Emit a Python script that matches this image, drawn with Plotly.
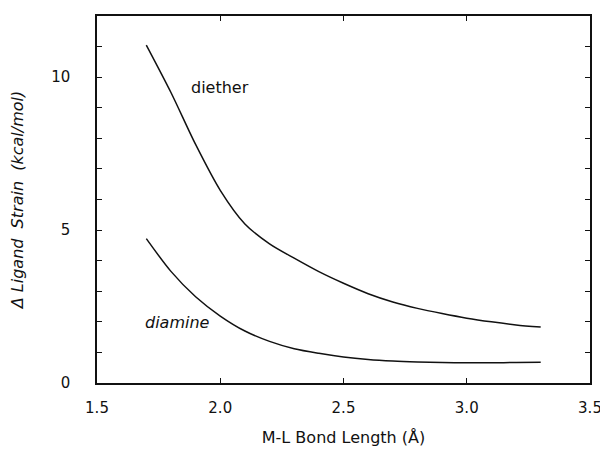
import plotly.graph_objects as go

bond_length = [1.7, 1.8, 1.9, 2.0, 2.1, 2.2, 2.3, 2.4, 2.5, 2.6, 2.7, 2.8, 2.9, 3.0, 3.1, 3.2, 3.3]
diether = [11.05, 9.5, 7.8, 6.3, 5.2, 4.55, 4.08, 3.64, 3.26, 2.92, 2.65, 2.44, 2.27, 2.12, 2.0, 1.9, 1.83]
diamine = [4.72, 3.65, 2.82, 2.19, 1.7, 1.36, 1.12, 0.97, 0.85, 0.77, 0.72, 0.69, 0.67, 0.66, 0.66, 0.67, 0.68]

font = "DejaVu Sans, Arial, sans-serif"
ink = "#111111"

fig = go.Figure()
for name, ys in [("diether", diether), ("diamine", diamine)]:
    fig.add_trace(go.Scatter(x=bond_length, y=ys, mode="lines", name=name,
                             line=dict(color=ink, width=1.5, shape="spline", smoothing=0.8),
                             showlegend=False))

fig.add_annotation(x=1.997, y=9.66, text="diether", showarrow=False,
                   font=dict(family=font, size=16, color=ink))
fig.add_annotation(x=1.828, y=1.99, text="<i>diamine</i>", showarrow=False,
                   font=dict(family=font, size=16, color=ink))

axis_common = dict(showline=True, linecolor=ink, linewidth=1.5, mirror="ticks",
                   ticks="inside", ticklen=5, tickcolor=ink, tickwidth=1.2, showgrid=False,
                   zeroline=False, tickfont=dict(family=font, size=15, color=ink))

fig.update_xaxes(range=[1.5, 3.5], tickvals=[1.5, 2.0, 2.5, 3.0, 3.5],
                 ticktext=["1.5", "2.0", "2.5", "3.0", "3.5"],
                 title=dict(text="M-L Bond Length (Å)", font=dict(family=font, size=16, color=ink),
                            standoff=16),
                 ticklabelstandoff=10, **axis_common)
fig.update_yaxes(range=[0, 12], tickvals=[0, 5, 10], ticktext=["0", "5", "10"],
                 minor=dict(dtick=1, ticks="inside", ticklen=5, tickcolor=ink, tickwidth=1.2),
                 title=dict(text="<i>Δ Ligand  Strain  (kcal/mol)</i>",
                            font=dict(family=font, size=16, color=ink), standoff=26),
                 ticklabelstandoff=22, **axis_common)

# the page body has an 8 px margin, so the figure is drawn 8 px in from the window edge
fig.update_layout(width=600, height=447, margin=dict(l=83, r=15, t=6, b=72),
                  plot_bgcolor="white", paper_bgcolor="white")

fig.write_html("out.html")
